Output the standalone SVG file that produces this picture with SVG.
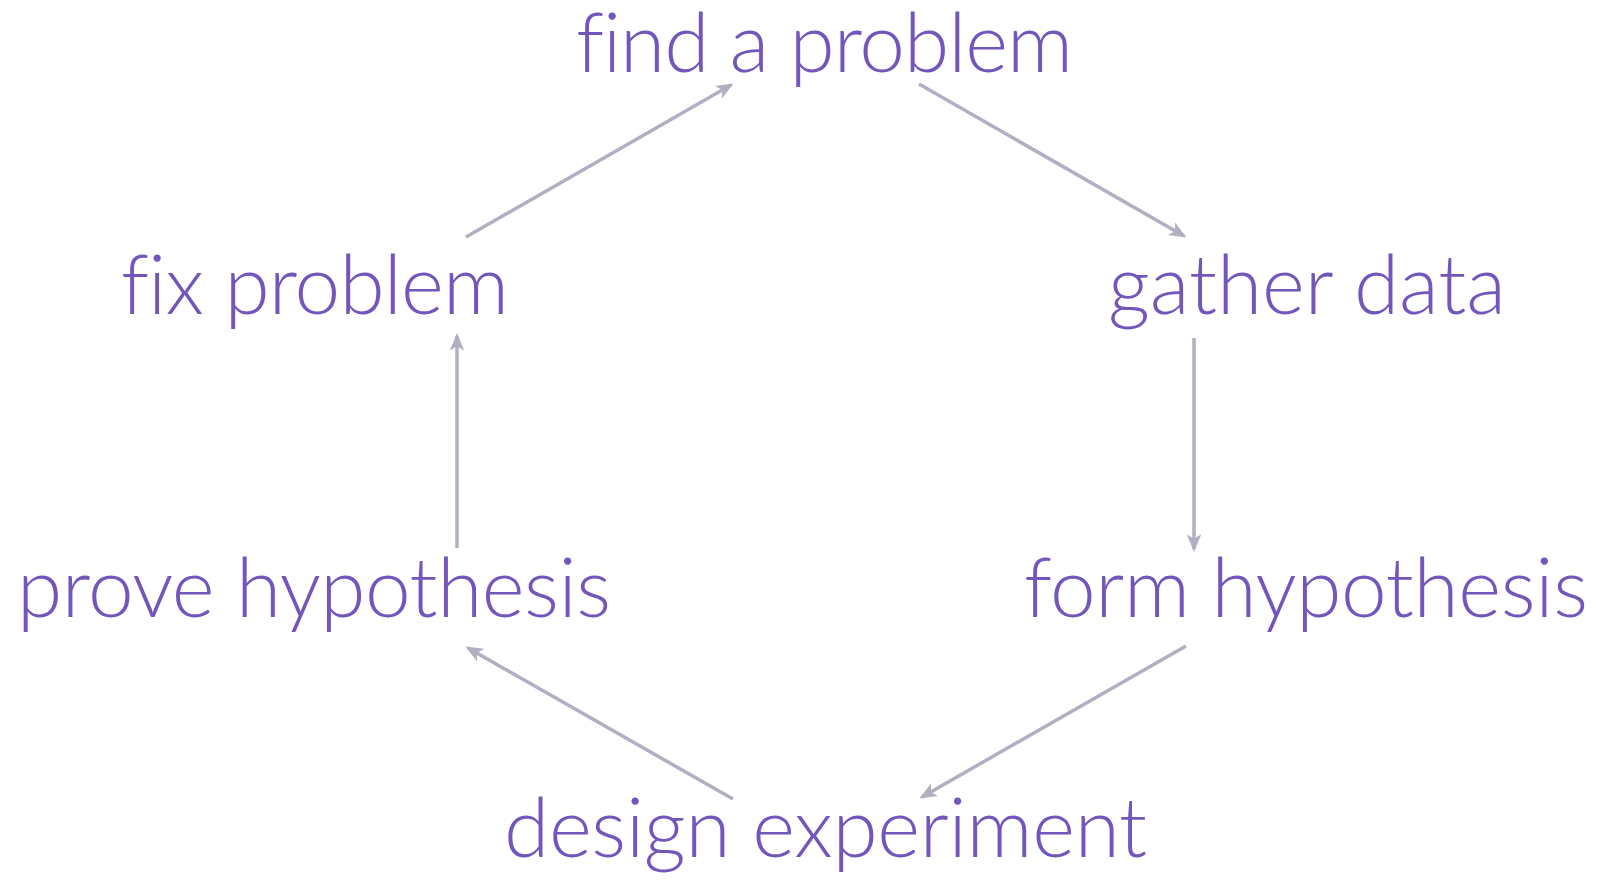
<svg xmlns="http://www.w3.org/2000/svg" width="1606" height="880" viewBox="0 0 1606 880">
<style>
.lbl{font-family:Lato,"Open Sans","Liberation Sans",sans-serif;font-weight:300;font-size:82px;fill:#7356bb;font-variant-ligatures:none;font-feature-settings:"liga" 0}
.edge{stroke:#b1afc1;stroke-width:3.5;fill:none;marker-end:url(#ah)}
</style>
<defs>
<marker id="ah" viewBox="0 0 12 10" refX="10" refY="5" markerWidth="5" markerHeight="4.2" markerUnits="strokeWidth" orient="auto">
<path d="M0,0 L12,5 L0,10 L3,5 z" fill="#b1afc1"/>
</marker>
</defs>
<rect width="1606" height="880" fill="#ffffff"/>
<g id="connectors">
<line class="edge" x1="466" y1="237" x2="731" y2="85"/>
<line class="edge" x1="919" y1="84" x2="1184" y2="236"/>
<line class="edge" x1="1194" y1="338" x2="1194" y2="549"/>
<line class="edge" x1="1186" y1="646" x2="922" y2="797"/>
<line class="edge" x1="733" y1="799" x2="468" y2="648"/>
<line class="edge" x1="457" y1="548" x2="457" y2="336"/>
</g>
<g id="find"><text class="lbl" x="576" y="72" textLength="497">find a problem</text></g>
<g id="gather"><text class="lbl" x="1108" y="314" textLength="398">gather data</text></g>
<g id="form"><text class="lbl" x="1024" y="617" textLength="564">form hypothesis</text></g>
<g id="design"><text class="lbl" x="504" y="857" textLength="643">design experiment</text></g>
<g id="prove"><text class="lbl" x="17" y="617" textLength="594">prove hypothesis</text></g>
<g id="fix"><text class="lbl" x="121" y="314" textLength="388">fix problem</text></g>
</svg>
